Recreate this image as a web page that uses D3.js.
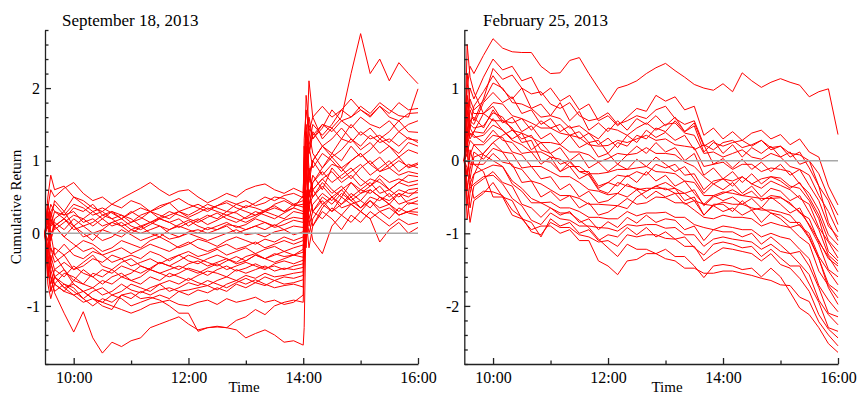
<!DOCTYPE html>
<html>
<head>
<meta charset="utf-8">
<script src="https://cdn.jsdelivr.net/npm/d3@7"></script>
<style>
  body { margin: 0; background: #fff; }
  svg { display: block; font-family: "Liberation Serif", "Times New Roman", serif; }
</style>
</head>
<body>
<div id="chart"></div>
<script>
// ---- data ----
const panelTitles = ["September 18, 2013", "February 25, 2013"];
const majorHours = ["10:00", "12:00", "14:00", "16:00"];
const minorHours = ["11:00", "13:00", "15:00"];
const sepYDomain = [-1.8, 2.8];
const febYDomain = [-2.8, 1.8];

const sepTimes = ["09:30","09:33","09:36","09:40","09:50","10:00","10:10","10:20","10:30","10:40",
  "10:50","11:00","11:10","11:20","11:30","11:40","11:50","12:00","12:10","12:20",
  "12:30","12:40","12:50","13:00","13:10","13:20","13:30","13:40","13:50","14:00",
  "14:01","14:03","14:06","14:10","14:20","14:30","14:40","14:50","15:00","15:10",
  "15:20","15:30","15:40","15:50","16:00"];

const sepReturns = [
  [0,0.35,0.6,0.5,0.62,0.7,0.55,0.45,0.5,0.4, 0.48,0.55,0.62,0.7,0.6,0.52,0.58,0.6,0.5,0.42, 0.48,0.55,0.5,0.6,0.65,0.68,0.6,0.55,0.62,0.56,
   1.0,1.4,1.2,1.5,1.35,1.5,1.7,1.6,1.75,1.65,1.8,1.7,1.62,1.6,1.99],
  [0,-0.2,0.1,0.3,0.2,0.35,0.3,0.4,0.25,0.3, 0.2,0.28,0.35,0.3,0.38,0.42,0.3,0.25,0.32,0.4, 0.35,0.3,0.4,0.45,0.38,0.42,0.5,0.48,0.4,0.45,
   0.9,1.3,1.1,1.35,1.5,1.45,1.6,2.2,2.75,2.2,2.4,2.1,2.35,2.2,2.06],
  [0,0.2,0.4,0.3,0.25,0.4,0.35,0.25,0.3,0.2, 0.25,0.15,0.2,0.3,0.25,0.2,0.3,0.35,0.4,0.33, 0.38,0.45,0.4,0.35,0.42,0.5,0.45,0.52,0.55,0.49,
   1.2,0.8,1.6,1.3,1.45,1.7,1.55,1.6,1.7,1.62,1.75,1.6,1.55,1.65,1.66],
  [0,0.1,-0.1,0.2,0.3,0.1,0.2,0.3,0.35,0.28, 0.2,0.3,0.22,0.15,0.2,0.25,0.3,0.22,0.28,0.35, 0.3,0.25,0.3,0.38,0.35,0.3,0.4,0.45,0.38,0.4,
   0.7,1.9,1.5,1.3,1.5,1.4,1.55,1.45,1.6,1.5,1.45,1.55,1.4,1.5,1.55],
  [0,0.3,0.1,0.15,0.05,0.2,0.1,0.15,0.25,0.2, 0.1,0.15,0.25,0.3,0.2,0.15,0.2,0.1,0.18,0.25, 0.2,0.3,0.28,0.2,0.25,0.3,0.35,0.3,0.4,0.36,
   0.5,1.0,2.1,1.6,1.3,1.45,1.3,1.5,1.35,1.45,1.3,1.4,1.55,1.4,1.39],
  [0,-0.1,0.2,0.05,0.15,0.25,0.2,0.1,0.2,0.3, 0.25,0.2,0.1,0.15,0.22,0.3,0.25,0.2,0.15,0.22, 0.28,0.2,0.15,0.22,0.3,0.25,0.2,0.28,0.35,0.3,
   0.8,1.5,1.1,1.4,1.2,1.3,1.45,1.3,1.2,1.35,1.25,1.3,1.2,1.32,1.25],
  [0,0.15,0.3,0.4,0.25,0.3,0.15,0.2,0.1,0.15, 0.2,0.1,0.05,0.12,0.2,0.15,0.08,0.15,0.2,0.12, 0.18,0.25,0.2,0.15,0.22,0.3,0.25,0.2,0.3,0.27,
   0.2,1.1,0.7,1.0,1.2,1.05,1.15,1.3,1.15,1.25,1.1,1.2,1.05,1.15,1.1],
  [0,0.4,0.2,0.1,0.2,0.05,0.1,0.0,0.05,0.15, 0.1,0.0,0.08,0.15,0.1,0.05,0.12,0.18,0.1,0.05, 0.1,0.15,0.08,0.12,0.2,0.15,0.1,0.18,0.22,0.2,
   0.6,0.3,1.2,0.9,1.1,1.0,0.85,1.0,1.1,0.95,1.05,0.9,1.0,0.92,0.97],
  [0,-0.3,0.0,0.1,-0.05,0.1,0.0,-0.1,0.05,0.0, -0.05,0.05,0.1,0.0,-0.05,0.05,0.1,0.05,0.0,0.08, 0.05,0.12,0.1,0.05,0.1,0.15,0.08,0.12,0.18,0.15,
   0.9,0.4,0.8,1.0,0.8,0.95,0.9,0.75,0.9,1.0,0.85,0.9,0.8,0.85,0.82],
  [0,0.5,0.8,0.6,0.65,0.5,0.4,0.3,0.2,0.1, 0.15,0.05,0.0,0.05,0.1,0.0,-0.05,0.02,0.05,0.0, 0.05,0.1,0.0,0.05,0.1,0.05,0.12,0.05,0.1,0.08,
   0.4,0.9,0.5,0.7,0.85,0.7,0.8,0.9,0.75,0.65,0.8,0.7,0.75,0.7,0.73],
  [0,0.2,-0.1,0.1,0.2,0.1,-0.05,0.0,-0.1,-0.05, 0.05,-0.02,-0.1,-0.05,0.0,-0.08,-0.05,0.0,-0.05,-0.1, -0.05,0.0,0.05,-0.02,0.0,-0.05,0.02,0.05,-0.02,0.02,
   0.3,1.4,0.9,0.6,0.75,0.6,0.5,0.7,0.6,0.55,0.65,0.5,0.6,0.55,0.56],
  [0,-0.2,-0.4,-0.2,-0.3,-0.2,-0.1,-0.15,-0.25,-0.2, -0.1,-0.15,-0.2,-0.1,-0.05,-0.12,-0.2,-0.15,-0.08,-0.12, -0.18,-0.1,-0.05,-0.1,-0.15,-0.08,-0.12,-0.05,-0.1,-0.05,
   0.1,0.8,0.4,0.5,0.65,0.5,0.6,0.45,0.55,0.6,0.5,0.45,0.55,0.4,0.45],
  [0,0.1,0.3,0.1,-0.05,-0.15,-0.25,-0.2,-0.3,-0.25, -0.2,-0.28,-0.22,-0.15,-0.2,-0.25,-0.18,-0.12,-0.2,-0.25, -0.2,-0.15,-0.22,-0.18,-0.12,-0.2,-0.15,-0.1,-0.15,-0.1,
   0.5,0.0,0.6,0.3,0.45,0.3,0.4,0.5,0.35,0.45,0.3,0.35,0.25,0.3,0.29],
  [0,-0.4,-0.2,-0.3,-0.15,-0.3,-0.35,-0.25,-0.3,-0.4, -0.35,-0.3,-0.35,-0.25,-0.3,-0.38,-0.3,-0.25,-0.32,-0.28, -0.22,-0.3,-0.25,-0.2,-0.28,-0.22,-0.18,-0.25,-0.2,-0.16,
   -0.3,0.6,0.2,-0.1,-0.28,0.1,0.25,0.15,0.3,0.2,-0.12,0.05,0.15,0.0,0.08],
  [0,-0.5,-0.7,-0.5,-0.4,-0.5,-0.45,-0.35,-0.4,-0.3, -0.35,-0.45,-0.4,-0.35,-0.42,-0.35,-0.3,-0.38,-0.42,-0.35, -0.3,-0.35,-0.4,-0.32,-0.28,-0.35,-0.3,-0.25,-0.3,-0.22,
   0.4,0.2,0.9,0.5,0.7,0.55,0.65,0.5,0.6,0.7,0.55,0.6,0.5,0.6,0.62],
  [0,0.2,-0.2,-0.4,-0.3,-0.5,-0.4,-0.3,-0.45,-0.5, -0.4,-0.35,-0.45,-0.5,-0.4,-0.45,-0.38,-0.3,-0.35,-0.4, -0.45,-0.38,-0.32,-0.38,-0.3,-0.35,-0.28,-0.32,-0.3,-0.26,
   0.2,-0.2,0.5,0.8,0.6,0.9,0.75,0.85,0.95,0.8,0.9,1.0,0.85,0.95,0.9],
  [0,-0.6,-0.3,-0.5,-0.6,-0.45,-0.55,-0.6,-0.5,-0.55, -0.45,-0.5,-0.55,-0.48,-0.4,-0.45,-0.5,-0.42,-0.38,-0.45, -0.4,-0.35,-0.42,-0.38,-0.3,-0.35,-0.4,-0.35,-0.3,-0.33,
   0.6,1.0,0.3,0.7,0.9,1.1,1.0,1.2,1.05,1.15,1.3,1.2,1.1,1.25,1.2],
  [0,-0.1,-0.5,-0.7,-0.55,-0.6,-0.7,-0.55,-0.6,-0.5, -0.6,-0.55,-0.45,-0.5,-0.55,-0.5,-0.45,-0.5,-0.55,-0.48, -0.42,-0.5,-0.45,-0.4,-0.45,-0.5,-0.42,-0.38,-0.42,-0.37,
   -0.2,0.5,0.1,0.3,0.5,0.4,0.55,0.45,0.35,0.5,0.45,0.55,0.4,0.45,0.5],
  [0,0.3,0.0,-0.3,-0.5,-0.65,-0.5,-0.6,-0.7,-0.6, -0.55,-0.65,-0.6,-0.5,-0.55,-0.6,-0.55,-0.48,-0.52,-0.58, -0.5,-0.45,-0.52,-0.48,-0.42,-0.48,-0.45,-0.5,-0.45,-0.42,
   0.1,1.2,0.8,1.0,1.2,1.1,1.3,1.25,1.4,1.3,1.35,1.25,1.4,1.3,1.28],
  [0,-0.7,-0.9,-0.7,-0.8,-0.65,-0.7,-0.75,-0.65,-0.7, -0.6,-0.65,-0.7,-0.6,-0.65,-0.55,-0.6,-0.65,-0.58,-0.52, -0.55,-0.6,-0.5,-0.55,-0.5,-0.45,-0.52,-0.48,-0.5,-0.47,
   0.3,0.7,1.4,1.1,0.9,1.05,0.9,1.0,1.1,0.95,0.85,0.95,1.05,0.9,0.95],
  [0,-0.3,-0.6,-0.8,-0.7,-0.75,-0.9,-0.8,-0.75,-0.85, -0.8,-0.7,-0.75,-0.8,-0.7,-0.65,-0.7,-0.62,-0.68,-0.72, -0.65,-0.6,-0.65,-0.58,-0.62,-0.55,-0.6,-0.58,-0.55,-0.53,
   -0.1,0.4,0.8,0.6,0.75,0.85,0.7,0.8,0.65,0.75,0.7,0.6,0.7,0.65,0.68],
  [0,0.1,-0.4,-0.6,-0.5,-0.7,-0.8,-0.75,-0.85,-0.8, -0.7,-0.78,-0.82,-0.75,-0.7,-0.8,-0.75,-0.68,-0.72,-0.65, -0.7,-0.75,-0.68,-0.62,-0.68,-0.6,-0.65,-0.6,-0.62,-0.58,
   0.5,0.9,0.4,0.6,0.4,0.5,0.35,0.4,0.3,0.45,0.35,0.4,0.25,0.3,0.35],
  [0,-0.5,-0.4,-0.6,-0.75,-0.85,-0.8,-0.9,-0.95,-0.85, -0.9,-1.0,-0.95,-0.9,-0.85,-0.9,-0.8,-0.85,-0.78,-0.82, -0.75,-0.8,-0.7,-0.75,-0.68,-0.72,-0.65,-0.7,-0.68,-0.64,
   0.0,0.5,0.2,0.4,0.55,0.45,0.6,0.7,0.55,0.65,0.75,0.6,0.7,0.8,0.78],
  [0,-0.4,-0.8,-0.6,-0.7,-0.8,-0.9,-1.0,-0.9,-0.95, -0.85,-0.9,-0.8,-0.85,-0.78,-0.75,-0.8,-0.78,-0.75,-0.72, -0.78,-0.7,-0.65,-0.7,-0.64,-0.7,-0.75,-0.72,-0.7,-0.74,
   -0.3,0.2,0.6,0.3,0.2,0.35,0.25,0.4,0.3,0.2,0.3,0.2,0.35,0.28,0.25],
  [0,-0.3,-0.6,-0.7,-0.8,-0.85,-0.95,-0.9,-1.0,-1.05, -0.85,-0.82,-0.9,-0.88,-0.92,-1.0,-1.1,-1.1,-1.35,-1.3, -1.28,-1.3,-1.2,-1.15,-1.05,-1.12,-1.0,-0.95,-0.92,-0.95,
   -0.4,0.3,0.0,0.2,0.4,0.3,0.5,0.4,0.45,0.35,0.5,0.4,0.3,0.42,0.4],
  [0,-0.5,-0.8,-0.6,-0.75,-0.7,-0.8,-0.9,-0.95,-1.0, -1.05,-1.1,-1.05,-0.98,-0.95,-0.92,-0.98,-1.0,-0.95,-0.92, -0.98,-0.9,-0.95,-0.92,-0.88,-0.95,-0.92,-0.98,-0.95,-0.85,
   0.2,-0.1,0.4,0.1,0.3,0.2,0.05,0.25,0.15,0.3,0.2,0.1,0.2,0.12,0.15],
  [0,-0.3,-0.6,-0.82,-1.1,-1.36,-1.08,-1.44,-1.65,-1.5, -1.56,-1.48,-1.44,-1.3,-1.25,-1.2,-1.15,-1.25,-1.33,-1.3, -1.29,-1.3,-1.33,-1.44,-1.38,-1.33,-1.4,-1.5,-1.48,-1.54,
   -1.3,0.2,-0.2,0.1,0.35,0.5,0.4,0.55,0.45,0.6,0.5,0.4,0.55,0.5,0.6],
  [0,0.4,0.2,0.45,0.3,0.5,0.45,0.35,0.3,0.4, 0.35,0.45,0.4,0.3,0.35,0.42,0.48,0.4,0.35,0.3, 0.38,0.42,0.35,0.3,0.25,0.32,0.38,0.3,0.35,0.52,
   1.3,1.7,1.4,1.6,1.75,1.6,1.7,1.85,1.7,1.6,1.75,1.65,1.8,1.7,1.72]
];

const febTimes = ["09:30","09:33","09:36","09:40","09:50","10:00","10:10","10:20","10:30","10:40",
  "10:50","11:00","11:10","11:20","11:30","11:40","11:50","12:00","12:10","12:20",
  "12:30","12:40","12:50","13:00","13:10","13:20","13:30","13:40","13:50","14:00",
  "14:10","14:20","14:30","14:40","14:50","15:00","15:10","15:20","15:30","15:40",
  "15:50","16:00"];

const febReturns = [
  [0,1.0,1.3,1.2,1.45,1.68,1.55,1.5,1.49,1.49, 1.3,1.2,1.21,1.38,1.42,1.2,1.0,0.8,1.0,1.04, 1.1,1.2,1.28,1.34,1.24,1.15,1.05,1.0,0.97,1.06, 0.95,1.21,1.1,1.01,1.08,1.13,1.08,1.04,0.88,0.95, 0.99,0.36],
  [0,0.6,1.0,0.85,1.15,1.4,1.25,1.3,1.1,1.15, 0.9,1.0,0.82,0.9,0.7,0.78,0.55,0.62,0.48,0.6, 0.72,0.68,0.9,0.82,0.88,0.7,0.75,0.35,0.45,0.3, 0.4,0.28,0.38,0.42,0.3,0.36,0.22,0.3,0.12,0.05, -0.35,-0.61],
  [0,0.3,0.7,0.55,0.85,1.27,1.12,1.18,1.0,0.92, 0.95,0.78,0.72,0.8,0.62,0.55,0.58,0.66,0.5,0.55, 0.62,0.58,0.7,0.75,0.58,0.5,0.55,0.22,0.15,0.25, 0.28,0.18,0.22,0.28,0.15,0.2,0.1,0.08,0.0,-0.18, -0.5,-0.75],
  [0,0.8,0.45,0.75,0.95,1.17,0.98,0.85,1.0,0.72, 0.78,0.62,0.8,0.55,0.68,0.42,0.52,0.4,0.55,0.42, 0.58,0.5,0.62,0.48,0.6,0.4,0.52,0.2,0.28,0.1, 0.22,0.05,0.18,0.1,0.2,0.05,0.12,-0.05,0.0,-0.35, -0.55,-0.88],
  [0,0.4,0.85,0.7,0.82,1.07,1.0,0.8,0.78,0.72, 0.6,0.62,0.58,0.45,0.48,0.38,0.3,0.45,0.42,0.35, 0.45,0.52,0.42,0.5,0.52,0.38,0.35,0.1,0.12,0.05, 0.1,0.15,0.05,0.02,0.1,0.05,-0.08,-0.12,-0.2,-0.48, -0.7,-0.98],
  [0,0.2,0.55,0.5,0.8,0.94,0.8,0.88,0.65,0.7, 0.5,0.58,0.4,0.48,0.3,0.38,0.22,0.31,0.18,0.35, 0.25,0.42,0.32,0.39,0.28,0.35,0.15,0.22,-0.05,0.03, -0.1,0.02,-0.12,-0.02,-0.15,-0.05,-0.2,-0.12,-0.34,-0.55, -0.9,-1.05],
  [0,0.45,0.3,0.4,0.65,0.8,0.78,0.62,0.58,0.52, 0.45,0.45,0.38,0.35,0.32,0.22,0.2,0.21,0.28,0.25, 0.3,0.35,0.28,0.3,0.22,0.2,0.18,-0.08,-0.05,-0.02, -0.12,-0.05,-0.05,-0.15,-0.1,-0.12,-0.15,-0.32,-0.45,-0.68, -1.02,-1.16],
  [0,0.9,0.55,0.6,0.45,0.7,0.52,0.6,0.4,0.48, 0.3,0.38,0.22,0.35,0.18,0.25,0.05,0.1,-0.05,0.08, 0.2,0.1,0.25,0.12,0.18,0.0,0.1,-0.2,-0.1,-0.25, -0.15,-0.3,-0.18,-0.32,-0.22,-0.28,-0.38,-0.3,-0.51,-0.75, -1.1,-1.25],
  [0,0.3,0.5,0.45,0.48,0.66,0.6,0.42,0.38,0.32, 0.25,0.25,0.22,0.12,0.12,0.08,-0.02,0.03,0.1,0.08, 0.1,0.18,0.1,0.1,0.08,-0.02,-0.08,-0.22,-0.32,-0.25, -0.28,-0.22,-0.32,-0.38,-0.28,-0.34,-0.4,-0.52,-0.6,-0.92, -1.12,-1.34],
  [0,0.6,0.35,0.4,0.38,0.58,0.42,0.3,0.38,0.15, 0.25,0.1,0.18,0.0,0.1,-0.1,-0.02,-0.15,-0.05,-0.12, 0.02,-0.08,0.05,-0.05,-0.15,-0.08,-0.25,-0.45,-0.32,-0.4, -0.3,-0.45,-0.35,-0.5,-0.38,-0.42,-0.55,-0.48,-0.71,-0.95, -1.3,-1.42],
  [0,0.2,0.38,0.32,0.35,0.49,0.42,0.28,0.22,0.12, 0.12,0.05,0.02,-0.08,-0.08,-0.18,-0.18,-0.16,-0.12,-0.12, -0.1,-0.08,-0.15,-0.16,-0.18,-0.28,-0.3,-0.48,-0.48,-0.43, -0.45,-0.48,-0.5,-0.52,-0.52,-0.51,-0.58,-0.72,-0.8,-1.12, -1.32,-1.53],
  [0,0.7,0.45,0.35,0.25,0.42,0.28,0.25,0.1,0.12, -0.05,0.05,-0.15,-0.08,-0.25,-0.18,-0.38,-0.3,-0.35,-0.2, -0.3,-0.15,-0.28,-0.2,-0.35,-0.28,-0.45,-0.6,-0.48,-0.55, -0.5,-0.6,-0.52,-0.65,-0.5,-0.6,-0.72,-0.65,-0.9,-1.15, -1.5,-1.6],
  [0,-0.2,0.08,0.22,0.22,0.35,0.32,0.12,0.08,-0.08, -0.08,-0.15,-0.22,-0.22,-0.3,-0.4,-0.42,-0.47,-0.45,-0.32, -0.4,-0.38,-0.38,-0.38,-0.45,-0.45,-0.55,-0.6,-0.62,-0.57, -0.6,-0.6,-0.65,-0.68,-0.68,-0.71,-0.75,-0.9,-1.0,-1.32, -1.52,-1.71],
  [0,0.1,-0.25,0.05,0.1,0.25,0.12,0.1,-0.1,-0.08, -0.25,-0.22,-0.4,-0.32,-0.5,-0.42,-0.58,-0.55,-0.45,-0.5, -0.4,-0.52,-0.42,-0.5,-0.45,-0.6,-0.55,-0.75,-0.62,-0.7, -0.65,-0.75,-0.68,-0.85,-0.72,-0.8,-0.92,-0.88,-1.07,-1.35, -1.7,-1.8],
  [0,-0.4,-0.12,0.12,0.02,0.17,0.12,-0.08,-0.12,-0.28, -0.32,-0.4,-0.48,-0.48,-0.52,-0.6,-0.6,-0.61,-0.62,-0.52, -0.6,-0.58,-0.5,-0.51,-0.58,-0.58,-0.68,-0.78,-0.8,-0.75, -0.78,-0.78,-0.8,-0.9,-0.85,-0.89,-0.92,-1.05,-1.15,-1.52, -1.72,-1.89],
  [0,0.3,-0.05,-0.05,-0.05,0.1,-0.02,-0.05,-0.3,-0.28, -0.5,-0.42,-0.55,-0.48,-0.65,-0.58,-0.75,-0.71,-0.62,-0.66, -0.5,-0.42,-0.35,-0.3,-0.38,-0.45,-0.4,-0.62,-0.5,-0.45, -0.4,-0.48,-0.42,-0.55,-0.48,-0.5,-0.6,-0.7,-0.88,-1.1, -1.35,-1.45],
  [0,-0.6,-0.32,-0.18,-0.12,-0.06,-0.08,-0.32,-0.42,-0.58, -0.58,-0.57,-0.65,-0.65,-0.7,-0.78,-0.78,-0.8,-0.8,-0.7, -0.76,-0.72,-0.72,-0.71,-0.78,-0.78,-0.88,-0.92,-0.95,-0.9, -0.92,-0.95,-0.95,-1.05,-1.0,-1.05,-1.08,-1.22,-1.35,-1.72, -1.92,-2.08],
  [0,-0.3,-0.65,-0.35,-0.25,-0.15,-0.3,-0.35,-0.6,-0.65, -0.78,-0.65,-0.75,-0.7,-0.85,-0.8,-0.95,-0.84,-0.92,-0.78, -0.86,-0.75,-0.85,-0.8,-0.82,-0.95,-0.9,-1.1,-0.95,-0.98, -0.98,-1.05,-1.0,-1.15,-1.05,-1.16,-1.28,-1.25,-1.45,-1.75, -2.1,-2.15],
  [0,-0.1,-0.38,-0.32,-0.22,-0.2,-0.32,-0.52,-0.62,-0.82, -0.88,-0.72,-0.8,-0.82,-0.9,-0.9,-0.92,-0.93,-0.97,-0.88, -0.9,-0.88,-0.88,-0.93,-0.92,-1.02,-1.02,-1.18,-1.08,-1.05, -1.08,-1.1,-1.12,-1.22,-1.15,-1.25,-1.28,-1.42,-1.57,-1.92, -2.12,-2.26],
  [0,-0.5,-0.85,-0.55,-0.45,-0.3,-0.5,-0.55,-0.8,-0.85, -1.05,-0.8,-0.9,-0.85,-1.0,-0.95,-1.1,-1.02,-1.05,-0.92, -1.02,-0.92,-1.05,-0.98,-1.08,-1.05,-1.2,-1.3,-1.15,-1.12, -1.15,-1.2,-1.18,-1.32,-1.22,-1.34,-1.45,-1.45,-1.7,-1.95, -2.3,-2.35],
  [0,0.2,-0.28,-0.52,-0.42,-0.43,-0.48,-0.68,-0.78,-0.98, -1.02,-0.85,-0.92,-0.92,-1.02,-1.05,-1.12,-1.1,-1.18,-1.02, -1.05,-1.02,-1.02,-1.07,-1.08,-1.18,-1.18,-1.38,-1.28,-1.2, -1.22,-1.25,-1.28,-1.38,-1.28,-1.43,-1.48,-1.62,-1.8,-2.12, -2.32,-2.44],
  [0,-0.2,0.15,-0.05,-0.15,-0.5,-0.5,-0.75,-0.8,-0.95, -0.9,-0.9,-1.0,-0.95,-1.1,-1.1,-1.38,-1.45,-1.57,-1.38, -1.36,-1.28,-1.28,-1.22,-1.32,-1.32,-1.45,-1.61,-1.45,-1.43, -1.45,-1.5,-1.48,-1.6,-1.48,-1.6,-1.81,-2.03,-2.12,-2.3, -2.52,-2.64],
  [0,0.1,0.28,0.22,0.08,0.0,-0.08,-0.28,-0.38,-0.52, -0.58,-0.65,-0.72,-0.72,-0.82,-0.92,-1.08,-1.2,-1.32,-1.15, -1.22,-1.22,-1.28,-1.35,-1.38,-1.48,-1.48,-1.55,-1.55,-1.52, -1.52,-1.55,-1.58,-1.62,-1.65,-1.71,-1.72,-1.88,-1.94,-2.22, -2.4,-2.55],
  [0,1.2,0.75,0.65,0.65,0.75,0.55,0.45,0.25,0.28, 0.0,-0.02,-0.15,-0.02,-0.15,-0.15,-0.35,-0.3,-0.2,-0.22, -0.15,-0.2,-0.05,-0.1,-0.05,-0.2,-0.18,-0.4,-0.28,-0.25, -0.35,-0.22,-0.32,-0.25,-0.22,-0.24,-0.35,-0.38,-0.55,-0.8, -1.25,-1.38],
  [0,1.6,1.15,0.95,0.65,0.55,0.55,0.52,0.58,0.42, 0.55,0.45,0.5,0.35,0.4,0.25,0.28,0.1,0.25,0.2, 0.35,0.3,0.45,0.4,0.55,0.4,0.48,0.12,0.25,0.2, 0.25,0.28,0.2,0.28,0.18,0.2,0.05,0.12,-0.1,-0.35, -0.85,-1.1],
  [0,-0.8,-0.45,-0.2,0.1,0.25,0.35,0.42,0.3,0.35, 0.15,0.1,-0.05,0.0,-0.15,-0.2,-0.4,-0.45,-0.3,-0.35, -0.38,-0.42,-0.35,-0.4,-0.38,-0.55,-0.5,-0.75,-0.6,-0.6, -0.7,-0.55,-0.68,-0.65,-0.72,-0.75,-0.85,-0.85,-1.05,-1.35, -1.75,-1.98]
];

// ---- drawing ----
const W = 858, H = 394;
const plotTop = 30, plotBottom = 364;
const parseTime = d3.timeParse("%H:%M");
const fmtTime = d3.timeFormat("%H:%M");
const axisColor = "#222";

const svg = d3.select("#chart").append("svg")
  .attr("width", W)
  .attr("height", H);

const panels = [
  {times: sepTimes, returns: sepReturns, domain: sepYDomain, xr: [45, 418],
   title: panelTitles[0], titleX: 62, timeX: 244, yLabel: true},
  {times: febTimes, returns: febReturns, domain: febYDomain, xr: [464.3, 838],
   title: panelTitles[1], titleX: 483, timeX: 667, yLabel: false}
];

function styleAxis(g) {
  g.attr("font-family", null).attr("font-size", null);
  g.selectAll("path, line").attr("stroke", axisColor).attr("stroke-width", 1.3);
  g.selectAll("text").attr("fill", "#000").style("font-size", "16px");
}

panels.forEach(p => {
  const x = d3.scaleTime()
    .domain([parseTime("09:30"), parseTime("16:00")])
    .range(p.xr);
  const y = d3.scaleLinear()
    .domain(p.domain)
    .range([plotBottom, plotTop]);

  const g = svg.append("g");

  // return paths
  const line = d3.line()
    .x((d, i) => x(parseTime(p.times[i])))
    .y(d => y(d));

  g.append("g").selectAll("path")
    .data(p.returns)
    .join("path")
    .attr("d", line)
    .attr("fill", "none")
    .attr("stroke", "#ff0000")
    .attr("stroke-width", 1);

  // zero reference line
  g.append("line")
    .attr("x1", p.xr[0]).attr("x2", p.xr[1])
    .attr("y1", y(0)).attr("y2", y(0))
    .attr("stroke", "#a8a8a8")
    .attr("stroke-width", 1.5);

  // x axis, major + minor
  g.append("g")
    .attr("transform", "translate(0," + plotBottom + ")")
    .call(d3.axisBottom(x)
      .tickValues(majorHours.map(parseTime))
      .tickFormat(fmtTime)
      .tickSizeInner(-6).tickSizeOuter(0).tickPadding(8))
    .call(styleAxis);
  g.append("g")
    .attr("transform", "translate(0," + plotBottom + ")")
    .call(d3.axisBottom(x)
      .tickValues(minorHours.map(parseTime))
      .tickFormat("")
      .tickSizeInner(-3.5).tickSizeOuter(0))
    .call(styleAxis)
    .call(a => a.select(".domain").remove());

  // y axis, major + minor
  const majorY = y.ticks(5).filter(v => Number.isInteger(v));
  const minorY = y.ticks(20).filter(v => !Number.isInteger(Math.round(v * 1000) / 1000));
  g.append("g")
    .attr("transform", "translate(" + p.xr[0] + ",0)")
    .call(d3.axisLeft(y)
      .tickValues(majorY)
      .tickFormat(d => String(d))
      .tickSizeInner(-6).tickSizeOuter(0).tickPadding(5))
    .call(styleAxis);
  g.append("g")
    .attr("transform", "translate(" + p.xr[0] + ",0)")
    .call(d3.axisLeft(y)
      .tickValues(minorY)
      .tickFormat("")
      .tickSizeInner(-3.5).tickSizeOuter(0))
    .call(styleAxis)
    .call(a => a.select(".domain").remove());

  // titles
  g.append("text")
    .attr("x", p.titleX).attr("y", 26)
    .style("font-size", "17px")
    .text(p.title);

  g.append("text")
    .attr("x", p.timeX).attr("y", 392)
    .attr("text-anchor", "middle")
    .style("font-size", "15px")
    .text("Time");

  if (p.yLabel) {
    g.append("text")
      .attr("transform", "translate(21,207) rotate(-90)")
      .attr("text-anchor", "middle")
      .style("font-size", "15px")
      .text("Cumulative Return");
  }
});
</script>
</body>
</html>
